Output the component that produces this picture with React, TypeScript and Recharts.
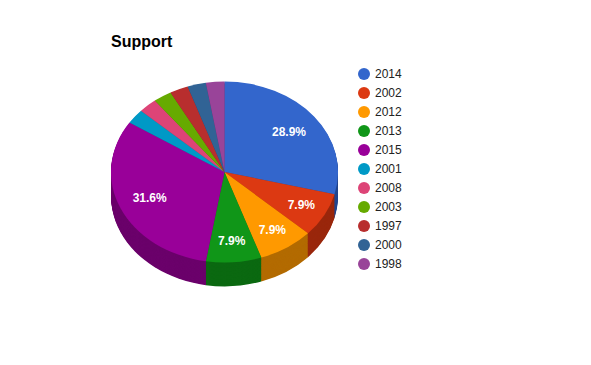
import { PieChart, Pie, Cell } from 'recharts';

// =============================================================================
// Data
// =============================================================================

const years = ['2014', '2002', '2012', '2013', '2015', '2001', '2008', '2003', '1997', '2000', '1998'];
const counts = [11, 3, 3, 3, 12, 1, 1, 1, 1, 1, 1];
const colors = [
  '#3366cc', '#dc3912', '#ff9900', '#109618', '#990099', '#0099c6',
  '#dd4477', '#66aa00', '#b82e2e', '#316395', '#994499',
];

const chartTitle = 'Support';

// =============================================================================
// Layout
// =============================================================================

const FONT = 'Arial, "Liberation Sans", sans-serif';
const SQUASH = 0.797; // vertical tilt of the 3D pie
const CX = 224.5;
const CY = 172;
const RADIUS = 113.5;
const DEPTH = 24; // px on screen
const depthSteps = Math.round(DEPTH / SQUASH);

const data = years.map((name, i) => ({ name, value: counts[i] }));

function darken(hex: string, f = 0.7) {
  const n = parseInt(hex.slice(1), 16);
  const r = Math.round(((n >> 16) & 255) * f);
  const g = Math.round(((n >> 8) & 255) * f);
  const b = Math.round((n & 255) * f);
  return `rgb(${r},${g},${b})`;
}

const RAD = Math.PI / 180;

function renderLabel(props: any) {
  const { cx, cy, midAngle, outerRadius, percent } = props;
  if (percent < 0.05) return null;
  // narrow slices push their label a bit further out
  const r = outerRadius * (percent < 0.1 ? 0.77 : 0.72);
  const x = cx + r * Math.cos(-midAngle * RAD);
  const y = cy + r * Math.sin(-midAngle * RAD);
  return (
    <text
      x={0}
      y={0}
      transform={`translate(${x} ${y}) scale(1 ${1 / SQUASH})`}
      fill="#ffffff"
      textAnchor="middle"
      dominantBaseline="central"
      style={{ fontFamily: FONT, fontSize: 12, fontWeight: 'bold' }}
    >
      {`${(percent * 100).toFixed(1)}%`}
    </text>
  );
}

export default function App() {
  const cyU = CY / SQUASH;
  const layers = Array.from({ length: depthSteps }, (_, i) => depthSteps - i);

  return (
    <div
      style={{
        position: 'absolute',
        left: 0,
        top: 0,
        width: 591,
        height: 365,
        background: '#ffffff',
        fontFamily: FONT,
        overflow: 'hidden',
      }}
    >
      <div
        style={{
          position: 'absolute',
          left: 111,
          top: 32,
          fontSize: 16,
          fontWeight: 'bold',
          color: '#000',
          lineHeight: '20px',
        }}
      >
        {chartTitle}
      </div>

      <div
        style={{
          position: 'absolute',
          left: 0,
          top: 0,
          width: 591,
          height: 420,
          transform: `scaleY(${SQUASH})`,
          transformOrigin: '0 0',
        }}
      >
        <PieChart width={591} height={420} margin={{ top: 0, right: 0, bottom: 0, left: 0 }}>
          {layers.map((off) => (
            <Pie
              key={`side-${off}`}
              data={data}
              dataKey="value"
              cx={CX}
              cy={cyU + off}
              outerRadius={RADIUS}
              startAngle={90}
              endAngle={-270}
              stroke="none"
              isAnimationActive={false}
            >
              {data.map((d, i) => (
                <Cell key={d.name} fill={darken(colors[i])} />
              ))}
            </Pie>
          ))}
          <Pie
            data={data}
            dataKey="value"
            cx={CX}
            cy={cyU}
            outerRadius={RADIUS}
            startAngle={90}
            endAngle={-270}
            stroke="none"
            label={renderLabel}
            labelLine={false}
            isAnimationActive={false}
          >
            {data.map((d, i) => (
              <Cell key={d.name} fill={colors[i]} />
            ))}
          </Pie>
        </PieChart>
      </div>

      {/* legend */}
      <div style={{ position: 'absolute', left: 358, top: 65 }}>
        {years.map((y, i) => (
          <div
            key={y}
            style={{ display: 'flex', alignItems: 'center', height: 18.96, fontSize: 12, color: '#222' }}
          >
            <span
              style={{
                display: 'inline-block',
                width: 12,
                height: 12,
                borderRadius: 6,
                background: colors[i],
                marginRight: 5,
              }}
            />
            {y}
          </div>
        ))}
      </div>
    </div>
  );
}
